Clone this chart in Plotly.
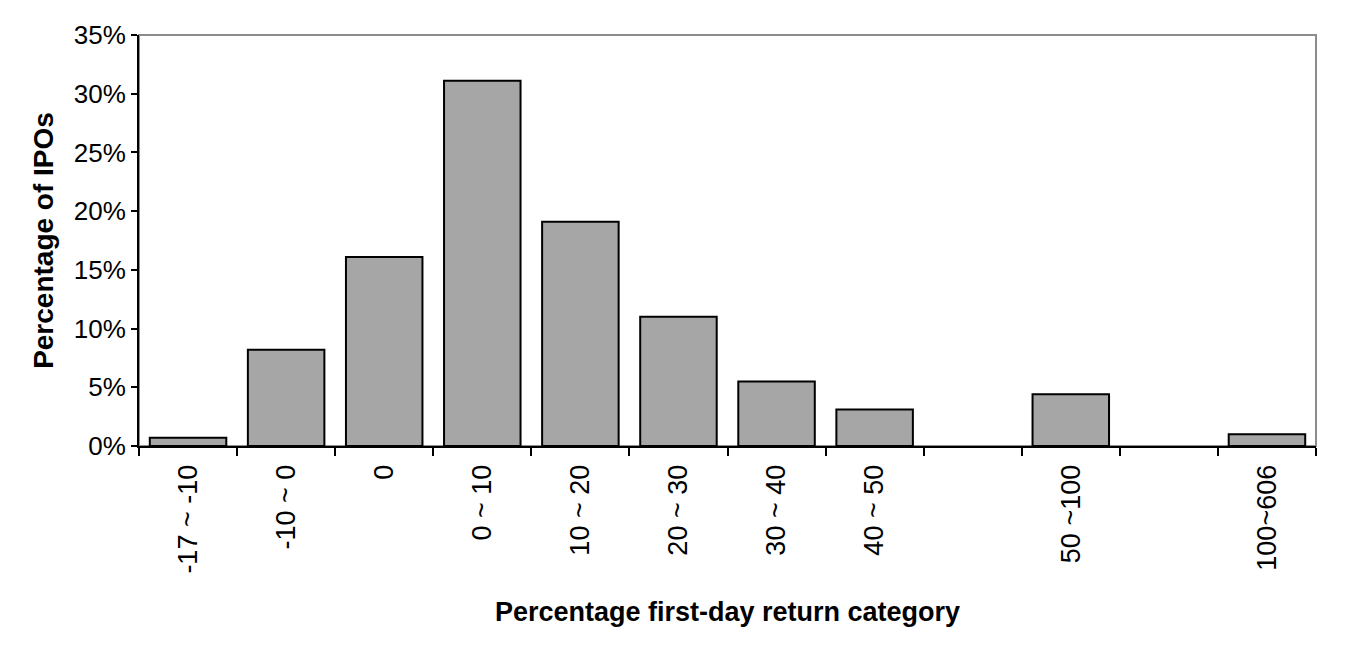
import plotly.graph_objects as go

categories = ["-17 ~ -10", "-10 ~ 0", "0", "0 ~ 10", "10 ~ 20", "20 ~ 30",
              "30 ~ 40", "40 ~ 50", " ", "50 ~100", "  ", "100~606"]
percent = [0.7, 8.2, 16.1, 31.1, 19.1, 11.0, 5.5, 3.1, None, 4.4, None, 1.0]
y_ticks = [0, 5, 10, 15, 20, 25, 30, 35]
y_labels = [f"{v}%" for v in y_ticks]

fig = go.Figure(go.Bar(
    x=categories, y=percent,
    marker=dict(color="#a6a6a6", line=dict(color="black", width=2)),
))

font = "Liberation Sans, Arial, sans-serif"
fig.update_layout(
    width=1349, height=659,
    margin=dict(l=139, r=33, t=35, b=213),
    paper_bgcolor="white", plot_bgcolor="white",
    bargap=0.22, showlegend=False,
    font=dict(family=font, color="black", size=24),
    shapes=[dict(type="rect", xref="paper", yref="paper", x0=0, x1=1, y0=0, y1=1,
                 line=dict(color="#8c8c8c", width=2), layer="below")],
)
fig.update_xaxes(
    type="category", categoryorder="array", categoryarray=categories,
    tickson="boundaries", ticks="outside", ticklen=8, tickwidth=2, tickcolor="black",
    showline=True, linecolor="black", linewidth=2, showgrid=False,
    tickangle=-90, tickfont=dict(size=27), ticklabelstandoff=6,
    title=dict(text="<b>Percentage first-day return category</b>", font=dict(size=27), standoff=29),
)
fig.update_yaxes(
    range=[0, 35], tickvals=y_ticks, ticktext=y_labels,
    ticks="outside", ticklen=6, tickwidth=2, tickcolor="black",
    showline=True, linecolor="black", linewidth=2, showgrid=False, zeroline=False,
    tickfont=dict(size=26),
    title=dict(text="<b>Percentage of IPOs</b>", font=dict(size=28), standoff=12),
)
fig.write_html("out.html")
